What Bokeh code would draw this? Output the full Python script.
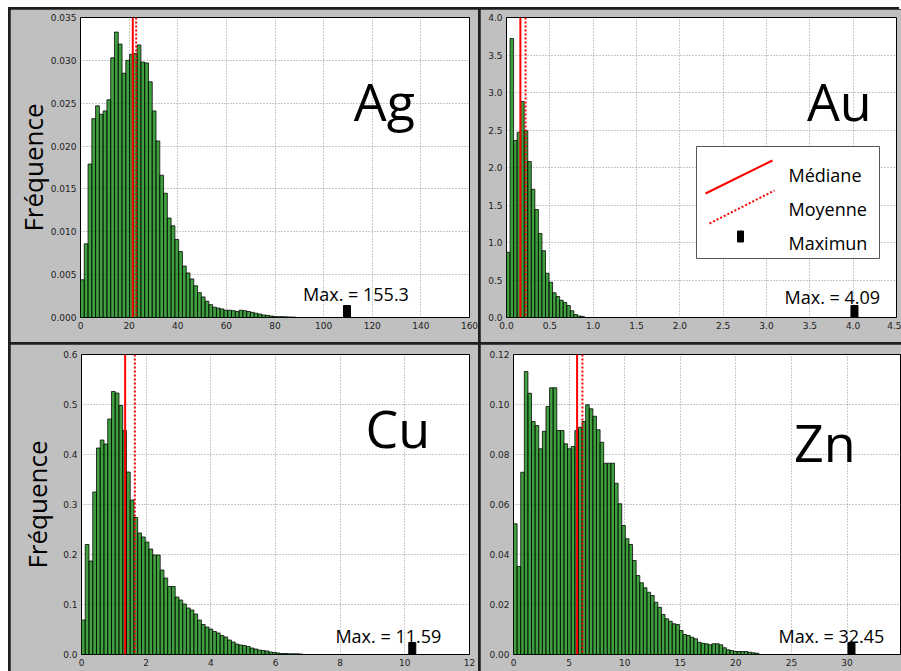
import math
from bokeh.plotting import figure
from bokeh.models import Range1d, FixedTicker, PrintfTickFormatter, Span, Label, Spacer
from bokeh.layouts import row, column
from bokeh.embed import file_html
from bokeh.resources import INLINE

# ---------------- data ----------------
elements = ["Ag", "Au", "Cu", "Zn"]
max_values = [155.3, 4.09, 11.59, 32.45]
max_texts = ["Max. = 155.3", "Max. = 4.09", "Max. = 11.59", "Max. = 32.45"]
n_bins = 100

ag_freq = [0.0044, 0.0086, 0.0179, 0.0232, 0.0247, 0.0237, 0.0241, 0.0254, 0.0303, 0.0333,
           0.0319, 0.0285, 0.0300, 0.0307, 0.0308, 0.0318, 0.0298, 0.0297, 0.0275, 0.0241,
           0.0206, 0.0166, 0.0145, 0.0116, 0.0107, 0.0091, 0.0077, 0.0060, 0.0052, 0.0045,
           0.0037, 0.0029, 0.0024, 0.0019, 0.0015, 0.0012, 0.0011, 0.0010, 0.00085, 0.00085,
           0.0008, 0.0007, 0.00085, 0.0008, 0.0007, 0.0006, 0.0005, 0.0004, 0.0003, 0.00025,
           0.00018, 0.00012, 0.0001, 0.0001, 0.00008, 0.00006, 0.00005]
au_freq = [0.87, 3.72, 2.36, 2.47, 2.88, 2.49, 2.08, 1.71, 1.44, 1.12,
           0.89, 0.59, 0.47, 0.33, 0.28, 0.23, 0.20, 0.16, 0.09, 0.04,
           0.02, 0.015]
cu_freq = [0.069, 0.220, 0.187, 0.325, 0.413, 0.429, 0.421, 0.471, 0.526, 0.523,
           0.498, 0.448, 0.365, 0.309, 0.274, 0.243, 0.235, 0.225, 0.211, 0.199,
           0.199, 0.169, 0.153, 0.136, 0.136, 0.115, 0.109, 0.101, 0.093, 0.089,
           0.081, 0.069, 0.060, 0.055, 0.051, 0.046, 0.043, 0.038, 0.035, 0.029,
           0.025, 0.021, 0.019, 0.018, 0.016, 0.013, 0.011, 0.009, 0.008, 0.007,
           0.005, 0.004, 0.003, 0.002, 0.002, 0.0015, 0.0015, 0.0015, 0.001]
zn_freq = [0.0523, 0.0352, 0.0729, 0.1132, 0.1045, 0.0932, 0.0916, 0.0823, 0.0893, 0.0992,
           0.1067, 0.1067, 0.0896, 0.0896, 0.0843, 0.0823, 0.0832, 0.0896, 0.0909, 0.0932,
           0.0999, 0.0983, 0.0953, 0.0899, 0.0849, 0.0765, 0.0765, 0.0765, 0.0685, 0.0603,
           0.0516, 0.0463, 0.0440, 0.0376, 0.0316, 0.0287, 0.0267, 0.0249, 0.0236, 0.0209,
           0.0189, 0.0160, 0.0143, 0.0133, 0.0123, 0.0120, 0.0096, 0.0080, 0.0076, 0.0069,
           0.0063, 0.0049, 0.0045, 0.0043, 0.0039, 0.0043, 0.0043, 0.0039, 0.0027, 0.0019,
           0.0016, 0.0012, 0.0012, 0.0012, 0.0012, 0.0009, 0.0007, 0.0005]

medians = [21.5, 0.16, 1.35, 5.72]
means = [22.9, 0.22, 1.65, 6.2]
max_marker_x = [109.6, 4.015, 10.23, 30.4]

ag_xticks = [0, 20, 40, 60, 80, 100, 120, 140, 160]
ag_yticks = [0.0, 0.005, 0.010, 0.015, 0.020, 0.025, 0.030, 0.035]
au_xticks = [0.0, 0.5, 1.0, 1.5, 2.0, 2.5, 3.0, 3.5, 4.0, 4.5]
au_yticks = [0.0, 0.5, 1.0, 1.5, 2.0, 2.5, 3.0, 3.5, 4.0]
cu_xticks = [0, 2, 4, 6, 8, 10, 12]
cu_yticks = [0.0, 0.1, 0.2, 0.3, 0.4, 0.5, 0.6]
zn_xticks = [0, 5, 10, 15, 20, 25, 30, 35]
zn_yticks = [0.0, 0.02, 0.04, 0.06, 0.08, 0.10, 0.12]

y_title = "Fréquence"
legend_labels = ["Médiane", "Moyenne", "Maximun"]

# ---------------- layout / style ----------------
PANEL_BG = "#c0c0c0"
DARK = "#1e1e1e"
FONT = "Open Sans"
BAR_FILL = "#008000"

specs = [
    dict(freq=ag_freq, xt=ag_xticks, yt=ag_yticks, xfmt="%d", yfmt="%.3f",
         xr=(0, 160), yr=(0, 0.035), w=468, h=333, mbl=70, mbr=9, mbt=7, mbb=25,
         name_pos=(125, 0.0253), max_pos=(113.3, 0.0028), ytitle_standoff=-3, legend=False),
    dict(freq=au_freq, xt=au_xticks, yt=au_yticks, xfmt="%.1f", yfmt="%.1f",
         xr=(0, 4.5), yr=(0, 4.0), w=421, h=333, mbl=26, mbr=5, mbt=8, mbb=25,
         name_pos=(3.84, 2.89), max_pos=(3.76, 0.267), ytitle_standoff=None, legend=True),
    dict(freq=cu_freq, xt=cu_xticks, yt=cu_yticks, xfmt="%d", yfmt="%.1f",
         xr=(0, 12), yr=(0, 0.6), w=468, h=327, mbl=71, mbr=9, mbt=10, mbb=17,
         name_pos=(9.78, 0.454), max_pos=(9.49, 0.038), ytitle_standoff=5, legend=False),
    dict(freq=zn_freq, xt=zn_xticks, yt=zn_yticks, xfmt="%d", yfmt="%.2f",
         xr=(0, 34.9), yr=(0, 0.12), w=421, h=327, mbl=33, mbr=0, mbt=10, mbb=17,
         name_pos=(28.0, 0.0852), max_pos=(28.6, 0.0076), ytitle_standoff=None, legend=False),
]


def make_panel(i, s):
    fw = s["w"] - s["mbl"] - s["mbr"]
    fh = s["h"] - s["mbt"] - s["mbb"]
    x0, x1 = s["xr"]
    y0, y1 = s["yr"]

    def dx(px):
        return px / fw * (x1 - x0)

    def dy(px):
        return px / fh * (y1 - y0)

    def at(px, py):  # offset from frame top-left, in pixels -> data
        return x0 + dx(px), y1 - dy(py)

    p = figure(width=s["w"], height=s["h"], x_range=Range1d(x0, x1), y_range=Range1d(y0, y1),
               output_backend="svg", toolbar_location=None,
               min_border_left=s["mbl"], min_border_right=s["mbr"],
               min_border_top=s["mbt"], min_border_bottom=s["mbb"],
               border_fill_color=PANEL_BG, background_fill_color="white",
               outline_line_color="black", outline_line_width=1)

    for ax in (p.xaxis, p.yaxis):
        ax.axis_line_color = None
        ax.major_tick_line_color = None
        ax.minor_tick_line_color = None
        ax.major_tick_out = 0
        ax.major_tick_in = 0
        ax.major_label_text_font = "DejaVu Sans"
        ax.major_label_text_font_size = "9px"
        ax.major_label_text_color = "#222222"
        ax.major_label_standoff = 4
    p.xaxis.ticker = FixedTicker(ticks=s["xt"])
    p.yaxis.ticker = FixedTicker(ticks=s["yt"])
    p.xaxis.formatter = PrintfTickFormatter(format=s["xfmt"])
    p.yaxis.formatter = PrintfTickFormatter(format=s["yfmt"])
    p.grid.grid_line_color = "#666666"
    p.grid.grid_line_alpha = 0.7
    p.grid.grid_line_dash = "1 2"
    p.grid.grid_line_width = 1

    if s["ytitle_standoff"] is not None:
        p.yaxis.axis_label = y_title
        p.yaxis.axis_label_text_font = FONT
        p.yaxis.axis_label_text_font_size = "26px"
        p.yaxis.axis_label_text_font_style = "normal"
        p.yaxis.axis_label_text_color = "black"
        p.yaxis.axis_label_standoff = s["ytitle_standoff"]

    bw = max_values[i] / n_bins
    freq = s["freq"]
    lefts = [k * bw for k in range(len(freq))]
    rights = [(k + 1) * bw for k in range(len(freq))]
    p.quad(left=lefts, right=rights, top=freq, bottom=0,
           fill_color=BAR_FILL, fill_alpha=0.75, line_color="black", line_alpha=0.85, line_width=0.9)

    # max marker (7x12 px)
    p.vbar(x=[max_marker_x[i]], width=dx(7), top=[dy(12)], bottom=0,
           fill_color="black", line_color="black")

    p.add_layout(Span(location=medians[i], dimension="height", line_color="red", line_width=2))
    p.add_layout(Span(location=means[i], dimension="height", line_color="red", line_width=2,
                      line_dash="2 2"))

    nx, ny = s["name_pos"]
    p.add_layout(Label(x=nx, y=ny, text=elements[i], text_font=FONT, text_font_size="52px",
                       text_align="center", text_baseline="alphabetic", text_color="black"))
    mx, my = s["max_pos"]
    p.add_layout(Label(x=mx, y=my, text=max_texts[i], text_font=FONT, text_font_size="18px",
                       text_align="center", text_baseline="alphabetic", text_color="black"))

    if s["legend"]:
        bl, bt = at(190, 129)
        br, bb = at(373, 241)
        p.quad(left=[bl], right=[br], top=[bt], bottom=[bb], fill_color="white",
               line_color="#555555", line_width=1)
        ax1, ay1 = at(199, 176)
        ax2, ay2 = at(266, 143)
        p.line([ax1, ax2], [ay1, ay2], line_color="red", line_width=2)
        bx1, by1 = at(203, 206)
        bx2, by2 = at(268, 173)
        p.line([bx1, bx2], [by1, by2], line_color="red", line_width=2, line_dash="2 2")
        cx, cy = at(234, 219)
        p.rect(x=[cx], y=[cy], width=dx(6), height=dy(11), fill_color="black", line_color="black")
        for k, base in enumerate([157, 191, 225]):
            lx, ly = at(282, base)
            p.add_layout(Label(x=lx, y=ly, text=legend_labels[k], text_font=FONT,
                               text_font_size="18px", text_align="left",
                               text_baseline="alphabetic", text_color="black"))
    return p


panels = [make_panel(i, s) for i, s in enumerate(specs)]

bg = {"background-color": DARK}
top_row = row(panels[0], panels[1], spacing=2, styles=bg)
bottom_row = row(panels[2], panels[3], spacing=2, styles=bg)
grid = column(top_row, bottom_row, spacing=2, styles=bg)
framed = column(Spacer(width=891, height=2, styles=bg),
                row(Spacer(width=2, height=662, styles=bg), grid))
page = column(Spacer(width=901, height=7),
              row(Spacer(width=8, height=664), framed))

open("out.html", "w").write(file_html(page, INLINE))
